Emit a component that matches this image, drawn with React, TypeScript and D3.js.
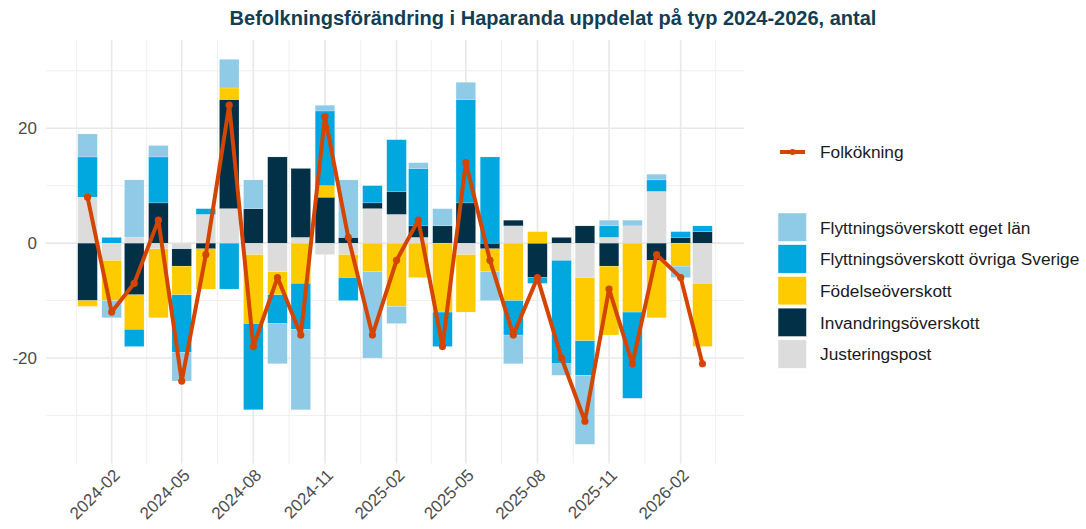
import React from "react";
import * as d3 from "d3";

// monthly values
const months = [
  "2024-01", "2024-02", "2024-03", "2024-04", "2024-05", "2024-06", "2024-07", "2024-08", "2024-09",
  "2024-10", "2024-11", "2024-12", "2025-01", "2025-02", "2025-03", "2025-04", "2025-05", "2025-06",
  "2025-07", "2025-08", "2025-09", "2025-10", "2025-11", "2025-12", "2026-01", "2026-02", "2026-03",
];
const egetLan = [4, -3, 10, 2, -5, 0, 5, 5, -7, -14, 1, 10, -15, -3, 1, 3, 3, -5, -5, 0, -2, -12, 1, 1, 1, -2, 0];
const ovrigaSverige = [7, 1, -3, 8, -10, 1, -8, -15, -5, -8, 13, -4, 3, 9, 10, -6, 18, 15, -6, -1, -18, -6, 2, -15, 2, 1, 1];
const fodelse = [-1, -7, -6, -12, -5, -7, 2, -12, -4, -7, 2, -4, -5, -11, -6, -12, -10, -4, -10, 2, 0, -11, -12, -12, -10, -4, -11];
const invandring = [-10, 0, -9, 7, -3, -1, 19, 6, 15, 12, 8, 1, 1, 4, 2, 3, 7, -1, 1, -6, 1, 3, -4, 0, -3, 1, 2];
const justering = [8, -3, 1, -1, -1, 5, 6, -2, -5, 1, -2, -2, 6, 5, 1, 0, -2, 0, 3, 0, -3, -6, 1, 3, 9, 0, -7];
const folkokning = [8, -12, -7, 4, -24, -2, 24, -18, -6, -16, 22, 1, -16, -3, 4, -18, 14, -3, -16, -6, -20, -31, -8, -21, -2, -6, -21];

const xTickLabels = ["2024-02", "2024-05", "2024-08", "2024-11", "2025-02", "2025-05", "2025-08", "2025-11", "2026-02"];
const yTicks = [-20, 0, 20];
const yMinorTicks = [-30, -10, 10, 30];

// legend order (top to bottom); stacking from zero goes the other way
const seriesNames = [
  "Flyttningsöverskott eget län",
  "Flyttningsöverskott övriga Sverige",
  "Födelseöverskott",
  "Invandringsöverskott",
  "Justeringspost",
];
const seriesValues = [egetLan, ovrigaSverige, fodelse, invandring, justering];
const seriesColors = ["#8FCAE7", "#00A8DF", "#FDCB00", "#023047", "#DCDCDC"];
const lineName = "Folkökning";
const lineColor = "#D44500";
const title = "Befolkningsförändring i Haparanda uppdelat på typ 2024-2026, antal";

const font = "'Liberation Sans', Arial, sans-serif";
const parseMonth = d3.timeParse("%Y-%m");

const width = 1086, height = 529;
const panel = { left: 46, right: 744, top: 40, bottom: 463.5 };

export default function App() {
  const dates = months.map(m => parseMonth(m) as Date);
  const rows = dates.map((date, i) => {
    const r: any = { date };
    seriesNames.forEach((n, k) => { r[n] = seriesValues[k][i]; });
    return r;
  });

  const stackKeys = seriesNames.slice().reverse();
  const stacked = d3.stack<any>().keys(stackKeys).offset(d3.stackOffsetDiverging)(rows);

  // bar width: 90% of the smallest gap between months (ggplot style)
  const minGapMs = d3.min(dates.slice(1), (d, i) => +d - +dates[i]) as number;
  const barMs = minGapMs * 0.9;
  const spanMs = +dates[dates.length - 1] - +dates[0] + barMs;
  const padMs = barMs / 2 + spanMs * 0.05;
  const x = d3.scaleTime()
    .domain([new Date(+dates[0] - padMs), new Date(+dates[dates.length - 1] + padMs)])
    .range([panel.left, panel.right]);
  const barW = x(new Date(+dates[0] + barMs)) - x(dates[0]);

  const yMin = d3.min(stacked, s => d3.min(s, d => d[0])) as number;
  const yMax = d3.max(stacked, s => d3.max(s, d => d[1])) as number;
  const yPad = (yMax - yMin) * 0.05;
  const y = d3.scaleLinear().domain([yMin - yPad, yMax + yPad]).range([panel.bottom, panel.top]);

  const majorDates = xTickLabels.map(t => parseMonth(t) as Date);
  const step = +majorDates[1] - +majorDates[0];
  const minorDates: Date[] = [new Date(+majorDates[0] - step / 2)];
  majorDates.forEach((d, i) => {
    const next = i < majorDates.length - 1 ? +majorDates[i + 1] : +d + step;
    minorDates.push(new Date((+d + next) / 2));
  });

  const line = d3.line<number>()
    .x((_, i) => x(dates[i]))
    .y(v => y(v));

  const inPanel = (px: number) => px >= panel.left && px <= panel.right;

  return (
    <svg width={width} height={height} style={{ position: "absolute", left: 0, top: 0, background: "#fff" }}
      fontFamily={font}>
      <text x={553} y={25} textAnchor="middle" fontSize={20} fontWeight="bold" fill="#113E55">{title}</text>

      {/* grid */}
      <g>
        {yMinorTicks.map(t => (
          <line key={"ym" + t} x1={panel.left} x2={panel.right} y1={y(t)} y2={y(t)} stroke="#EFEFEF" strokeWidth={1} />
        ))}
        {minorDates.filter(d => inPanel(x(d))).map(d => (
          <line key={"xm" + +d} x1={x(d)} x2={x(d)} y1={panel.top} y2={panel.bottom} stroke="#EFEFEF" strokeWidth={1} />
        ))}
        {yTicks.map(t => (
          <line key={"y" + t} x1={panel.left} x2={panel.right} y1={y(t)} y2={y(t)} stroke="#E8E8E8" strokeWidth={1.6} />
        ))}
        {majorDates.map(d => (
          <line key={"x" + +d} x1={x(d)} x2={x(d)} y1={panel.top} y2={panel.bottom} stroke="#E8E8E8" strokeWidth={1.6} />
        ))}
      </g>

      {/* stacked bars */}
      <g>
        {stacked.map(s => {
          const color = seriesColors[seriesNames.indexOf(s.key)];
          return (
            <g key={s.key} fill={color}>
              {s.map((d, i) => {
                const h = Math.abs(y(d[0]) - y(d[1]));
                if (h < 0.01) return null;
                return (
                  <rect key={i} x={x(dates[i]) - barW / 2} width={barW}
                    y={Math.min(y(d[0]), y(d[1]))} height={h}
                    stroke="#ffffff" strokeWidth={0.3} strokeOpacity={0.7} />
                );
              })}
            </g>
          );
        })}
      </g>

      {/* Folkökning line */}
      <path d={line(folkokning) as string} fill="none" stroke={lineColor} strokeWidth={4} strokeLinejoin="round" />
      {folkokning.map((v, i) => (
        <circle key={i} cx={x(dates[i])} cy={y(v)} r={3.6} fill={lineColor} />
      ))}

      {/* axes labels */}
      {yTicks.map(t => (
        <text key={t} x={37} y={y(t)} dy="0.35em" textAnchor="end" fontSize={17} fill="#4D4D4D">{t}</text>
      ))}
      {majorDates.map((d, i) => (
        <text key={i} transform={`translate(${x(d) + 5},${472}) rotate(-45)`} textAnchor="end"
          fontSize={17} fill="#4D4D4D" dy="0.35em">{xTickLabels[i]}</text>
      ))}

      {/* legend */}
      <g>
        <line x1={780} x2={805} y1={152} y2={152} stroke={lineColor} strokeWidth={4} />
        <circle cx={792.5} cy={152} r={3} fill={lineColor} />
        <text x={820} y={152} dy="0.35em" fontSize={17.3} fill="#1A1A1A">{lineName}</text>
        {seriesNames.map((n, i) => (
          <g key={n} transform={`translate(778,${213 + i * 31.7})`}>
            <rect width={28.5} height={28.5} fill={seriesColors[i]} stroke="#ffffff" strokeWidth={0.5} />
            <text x={42} y={14.5} dy="0.35em" fontSize={17.3} fill="#1A1A1A">{n}</text>
          </g>
        ))}
      </g>
    </svg>
  );
}
